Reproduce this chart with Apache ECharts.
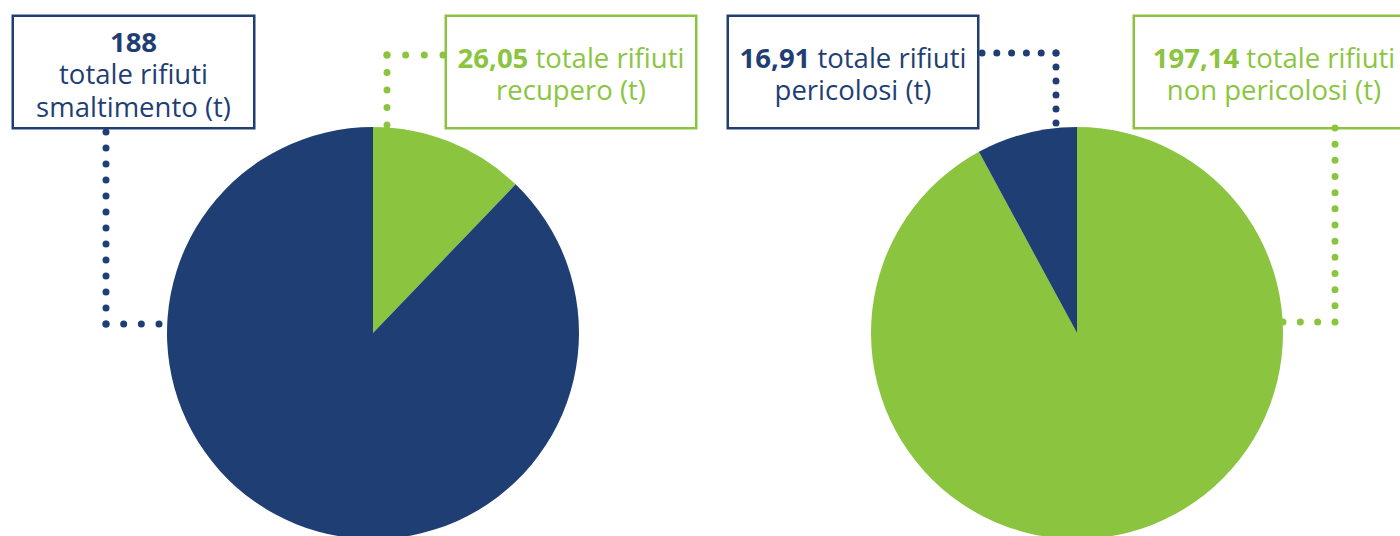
<!DOCTYPE html>
<html lang="it">
<head>
  <meta charset="utf-8" />
  <title>Rifiuti</title>
  <script src="https://cdn.jsdelivr.net/npm/echarts@6/dist/echarts.min.js"></script>
  <style>
    html, body { margin: 0; padding: 0; background: #fff; }
  </style>
</head>
<body>
  <div id="main" style="width: 1400px;height:536px;"></div>
  <script type="text/javascript">
    // dati
    var leftNames = ['recupero', 'smaltimento'];
    var leftValues = [26.05, 188];
    var leftTexts = ['{v} totale rifiuti\nrecupero (t)', '{v}\ntotale rifiuti\nsmaltimento (t)'];

    var rightNames = ['non pericolosi', 'pericolosi'];
    var rightValues = [197.14, 16.91];
    var rightTexts = ['{v} totale rifiuti\nnon pericolosi (t)', '{v} totale rifiuti\npericolosi (t)'];

    var BLUE = '#1f3f74';
    var GREEN = '#8bc53f';
    var FONT = '"Open Sans", "Noto Sans", sans-serif';

    // posizione dei riquadri [centro x, top, larghezza, padding]
    var leftBoxes = [
      { x: 571, y: 17, w: 248, pad: [24, 0, 21, 0] },
      { x: 133.5, y: 17, w: 239, pad: [8, 0, 4.5, 0] }
    ];
    var rightBoxes = [
      { x: 1274, y: 17, w: 278, pad: [24, 0, 21, 0] },
      { x: 853, y: 17, w: 248, pad: [24, 0, 21, 0] }
    ];

    function fmt(v) {
      return String(v).replace('.', ',');
    }

    function makeLabel(tpl, v) {
      return tpl.split('\n').map(function (line) {
        if (line.indexOf('{v}') < 0) return '{n|' + line + '}';
        var rest = line.replace('{v}', '').trim();
        return '{b|' + fmt(v) + '}' + (rest ? '{n| ' + rest + '}' : '');
      }).join('\n');
    }

    function buildData(names, values, texts, colors, boxes) {
      return names.map(function (n, i) {
        return {
          name: n,
          value: values[i],
          itemStyle: { color: colors[i] },
          label: {
            formatter: makeLabel(texts[i], values[i]),
            borderColor: colors[i],
            padding: boxes[i].pad,
            width: boxes[i].w,
            rich: {
              b: { fontFamily: FONT, fontSize: 27.5, fontWeight: 'bold', lineHeight: 32.5, color: colors[i], align: 'center' },
              n: { fontFamily: FONT, fontSize: 27.5, lineHeight: 32.5, color: colors[i], align: 'center' }
            }
          }
        };
      });
    }

    function pieSeries(center, data, boxes) {
      return {
        type: 'pie',
        center: center,
        radius: 206,
        startAngle: 90,
        clockwise: true,
        avoidLabelOverlap: false,
        silent: true,
        animation: false,
        itemStyle: { borderWidth: 0 },
        label: {
          show: true,
          position: 'outside',
          backgroundColor: '#fff',
          borderWidth: 2.5
        },
        labelLine: { show: false },
        labelLayout: function (params) {
          var b = boxes[params.dataIndex];
          return { x: b.x, y: b.y, align: 'center', verticalAlign: 'top' };
        },
        data: data
      };
    }

    // linee tratteggiate a puntini
    function dots(points, color, gap) {
      var out = [];
      for (var i = 0; i < points.length - 1; i++) {
        var a = points[i], b = points[i + 1];
        var len = Math.hypot(b[0] - a[0], b[1] - a[1]);
        var g = len / Math.max(1, Math.round(len / gap));
        out.push({
          type: 'line',
          silent: true,
          z: 10,
          shape: { x1: a[0], y1: a[1], x2: b[0], y2: b[1] },
          style: { stroke: color, lineWidth: 7, lineDash: [0.01, g - 0.01], lineCap: 'round' }
        });
      }
      return out;
    }

    var leaders = []
      .concat(dots([[106, 132], [106, 324], [159, 324]], BLUE, 16.3))
      .concat(dots([[443, 55], [387, 55], [387, 125]], GREEN, 18))
      .concat(dots([[982, 53], [1056, 53], [1056, 123]], BLUE, 15))
      .concat(dots([[1283, 322], [1335, 322], [1335, 128]], GREEN, 16.3));

    var myChart = echarts.init(document.getElementById('main'), null, { renderer: 'svg' });

    var option = {
      backgroundColor: '#fff',
      animation: false,
      textStyle: { fontFamily: FONT },
      series: [
        pieSeries([373, 333], buildData(leftNames, leftValues, leftTexts, [GREEN, BLUE], leftBoxes), leftBoxes),
        pieSeries([1077, 333], buildData(rightNames, rightValues, rightTexts, [GREEN, BLUE], rightBoxes), rightBoxes)
      ],
      graphic: leaders
    };
    myChart.setOption(option);
  </script>
</body>
</html>
